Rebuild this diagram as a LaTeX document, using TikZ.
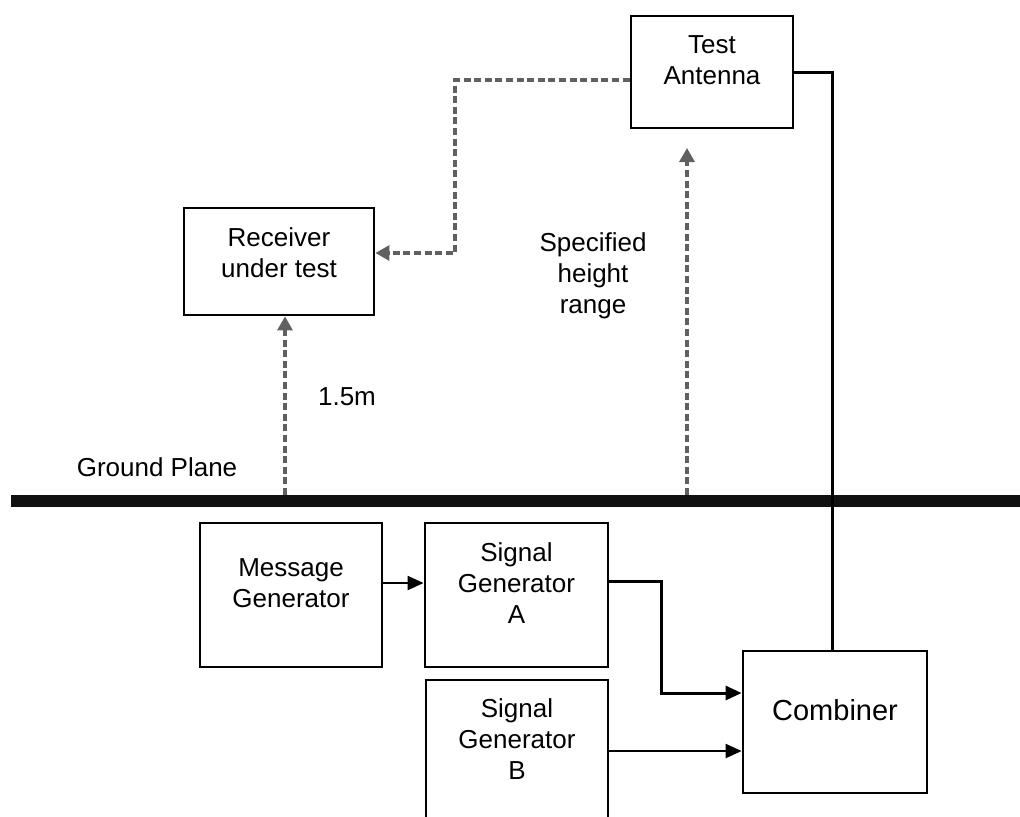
\documentclass[tikz,border=0pt]{standalone}
\usepackage{fontspec}
\setmainfont{Liberation Sans}
\usetikzlibrary{arrows.meta}
\definecolor{dashgray}{HTML}{606060}
\definecolor{groundblack}{HTML}{111111}

\begin{document}
\begin{tikzpicture}[
	x=0.5pt, y=-0.5pt,
	font=\fontsize{13}{15.5}\selectfont,
	box/.style={draw, line width=1.4pt, inner sep=0pt},
	txt/.style={align=center, inner sep=0pt},
	wire/.style={line width=1.5pt},
	arr/.style={line width=1.1pt, -{Triangle[length=8pt,width=7pt]}},
	arrA/.style={line width=1.5pt, -{Triangle[length=8pt,width=7pt]}},
	dasharr/.style={draw=dashgray, line width=1.6pt, dash pattern=on 3.5pt off 1.8pt,
		-{Triangle[length=7pt,width=7.5pt,fill=dashgray]}},
	ground/.style={draw=groundblack, line width=6pt},
	]
\useasboundingbox (0,0) rectangle (1020,816);
\node [box, minimum width=81pt, minimum height=56pt,
	label={[txt, name=antL, yshift=6pt]center:{Test\\Antenna}}] (ant) at (712,72) {};
\node [box, minimum width=95pt, minimum height=53.5pt,
	label={[txt, name=rxL, yshift=4.25pt]center:{Receiver\\under test}}] (rx) at (279,261.5) {};
\node [box, minimum width=91pt, minimum height=72pt,
	label={[txt, name=msgL, yshift=6pt]center:{Message\\Generator}}] (msg) at (291,595) {};
\node [box, minimum width=91.5pt, minimum height=72pt,
	label={[txt, name=sigAL, yshift=6pt]center:{Signal\\Generator\\A}}] (sigA) at (516.5,595) {};
\node [box, minimum width=91pt, minimum height=71pt,
	label={[txt, name=sigBL, yshift=6pt]center:{Signal\\Generator\\B}}] (sigB) at (517,751) {};
\node [box, minimum width=92pt, minimum height=71pt,
	label={[txt, name=combL, yshift=6pt, font=\fontsize{14.5}{17}\selectfont]center:{Combiner}}] (comb) at (835,722) {};
\node [txt] (gpL) at (157,467) {Ground Plane};
\node [txt] (hL) at (347,397) {1.5m};
\node [txt] (rangeL) at (593,276) {Specified\\height\\range};
\coordinate (gl) at (11,501);
\coordinate (gr) at (1020,501);
\coordinate (g1) at (285,495);
\coordinate (g2) at (687,495);
\coordinate (top2) at (687,148);
\coordinate (kink) at (455,253);
\draw [ground] (gl) -- (gr);
\draw [dasharr] (g1) -- (g1 |- rx.south);
\draw [dasharr] (g2) -- (top2);
\draw [dasharr] ([yshift=-4pt]ant.west) -| (kink) -- (kink -| rx.east);
\draw [wire] (ant.east) -| ([xshift=-1.5pt]comb.north);
\draw [arr] ([yshift=6pt]msg.east) -- ([yshift=6pt]sigA.west);
\draw [arrA] ([yshift=7pt]sigA.east) -- ++(26pt,0) |- ([yshift=14.5pt]comb.west);
\draw [arr] (sigB.east) -- (sigB.east -| comb.west);
\end{tikzpicture}
\end{document}
